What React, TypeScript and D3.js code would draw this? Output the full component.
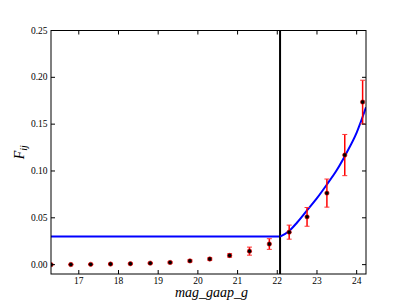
import * as d3 from 'd3';

const magBins = [16.3, 16.8, 17.3, 17.8, 18.3, 18.8, 19.3, 19.8, 20.3, 20.8, 21.3, 21.8, 22.3, 22.75, 23.25, 23.7, 24.15];
const fijValues = [0.0, 0.0001, 0.0003, 0.0006, 0.001, 0.0016, 0.0023, 0.004, 0.006, 0.0098, 0.0144, 0.022, 0.0347, 0.051, 0.0764, 0.117, 0.1736];
const fijErrors = [0.0003, 0.0003, 0.0004, 0.0005, 0.0006, 0.0007, 0.0009, 0.0011, 0.0013, 0.0018, 0.0043, 0.0057, 0.0075, 0.01, 0.015, 0.022, 0.0233];

const flatLevel = 0.03;
const cutMag = 22.07;
const fitX = [22.07, 22.3, 22.5, 22.77, 23.0, 23.24, 23.5, 23.74, 24.0, 24.235];
const fitY = [0.03, 0.036, 0.045, 0.059, 0.071, 0.085, 0.101, 0.119, 0.141, 0.168];

const xTicks = [17, 18, 19, 20, 21, 22, 23, 24];
const yTicks = [0.0, 0.05, 0.1, 0.15, 0.2, 0.25];

const width = 407;
const height = 305;
const margin = { top: 30.5, right: 41, bottom: 31, left: 51 };
const serif = "'Liberation Serif', 'DejaVu Serif', serif";

export default function App() {
  const innerW = width - margin.left - margin.right;
  const innerH = height - margin.top - margin.bottom;

  const x = d3.scaleLinear().domain([16.3, 24.235]).range([margin.left, margin.left + innerW]);
  const y = d3.scaleLinear().domain([-0.01, 0.25]).range([margin.top + innerH, margin.top]);

  const fitLine = d3
    .line<number>()
    .x((d) => x(d))
    .y((_, i) => y(fitY[i]))
    .curve(d3.curveMonotoneX);

  const left = x.range()[0];
  const right = x.range()[1];
  const top = y.range()[1];
  const bottom = y.range()[0];
  const tickLen = 4;
  const cap = 2.5;

  return (
    <svg
      width={width}
      height={height}
      style={{ position: 'absolute', left: 0, top: 0, background: '#fff' }}
    >
      <defs>
        <clipPath id="plot">
          <rect x={left} y={top} width={right - left} height={bottom - top} />
        </clipPath>
      </defs>

      <g clipPath="url(#plot)">
        {/* flat part of the fit */}
        <line
          x1={x(16.3)}
          x2={x(cutMag)}
          y1={y(flatLevel)}
          y2={y(flatLevel)}
          stroke="#0000ff"
          strokeWidth={2}
        />
        <line x1={x(cutMag)} x2={x(cutMag)} y1={top} y2={bottom} stroke="#000" strokeWidth={2} />
        <path d={fitLine(fitX) || ''} fill="none" stroke="#0000ff" strokeWidth={2} />

        {magBins.map((m, i) => {
          const cx = x(m);
          const y0 = y(fijValues[i] - fijErrors[i]);
          const y1 = y(fijValues[i] + fijErrors[i]);
          return (
            <g key={i}>
              <line x1={cx} x2={cx} y1={y0} y2={y1} stroke="#ff0000" strokeWidth={1.5} />
              <line x1={cx - cap} x2={cx + cap} y1={y0} y2={y0} stroke="#ff3333" strokeWidth={1} />
              <line x1={cx - cap} x2={cx + cap} y1={y1} y2={y1} stroke="#ff3333" strokeWidth={1} />
              <circle cx={cx} cy={y(fijValues[i])} r={2.2} fill="#000" stroke="#ff0000" strokeWidth={0.6} />
            </g>
          );
        })}
      </g>

      {/* frame */}
      <rect x={left} y={top} width={right - left} height={bottom - top} fill="none" stroke="#000" strokeWidth={1} />

      {xTicks.map((t) => (
        <g key={t}>
          <line x1={x(t)} x2={x(t)} y1={bottom} y2={bottom - tickLen} stroke="#000" />
          <line x1={x(t)} x2={x(t)} y1={top} y2={top + tickLen} stroke="#000" />
          <text x={x(t)} y={bottom + 9.5} textAnchor="middle" fontFamily={serif} fontSize={9.5}>
            {t}
          </text>
        </g>
      ))}

      {yTicks.map((t) => (
        <g key={t}>
          <line x1={left} x2={left + tickLen} y1={y(t)} y2={y(t)} stroke="#000" />
          <line x1={right} x2={right - tickLen} y1={y(t)} y2={y(t)} stroke="#000" />
          <text
            x={left - 3.5}
            y={y(t)}
            dy="0.33em"
            textAnchor="end"
            fontFamily={serif}
            fontSize={9.5}
          >
            {d3.format('.2f')(t)}
          </text>
        </g>
      ))}

      <text
        x={(left + right) / 2 + 3}
        y={297}
        textAnchor="middle"
        fontFamily={serif}
        fontStyle="italic"
        fontSize={14}
      >
        mag_gaap_g
      </text>

      <text
        transform={`translate(24, ${(top + bottom) / 2}) rotate(-90)`}
        textAnchor="middle"
        fontFamily={serif}
        fontStyle="italic"
        fontSize={14}
      >
        F
        <tspan fontSize={10} dy={3}>
          ij
        </tspan>
      </text>
    </svg>
  );
}
